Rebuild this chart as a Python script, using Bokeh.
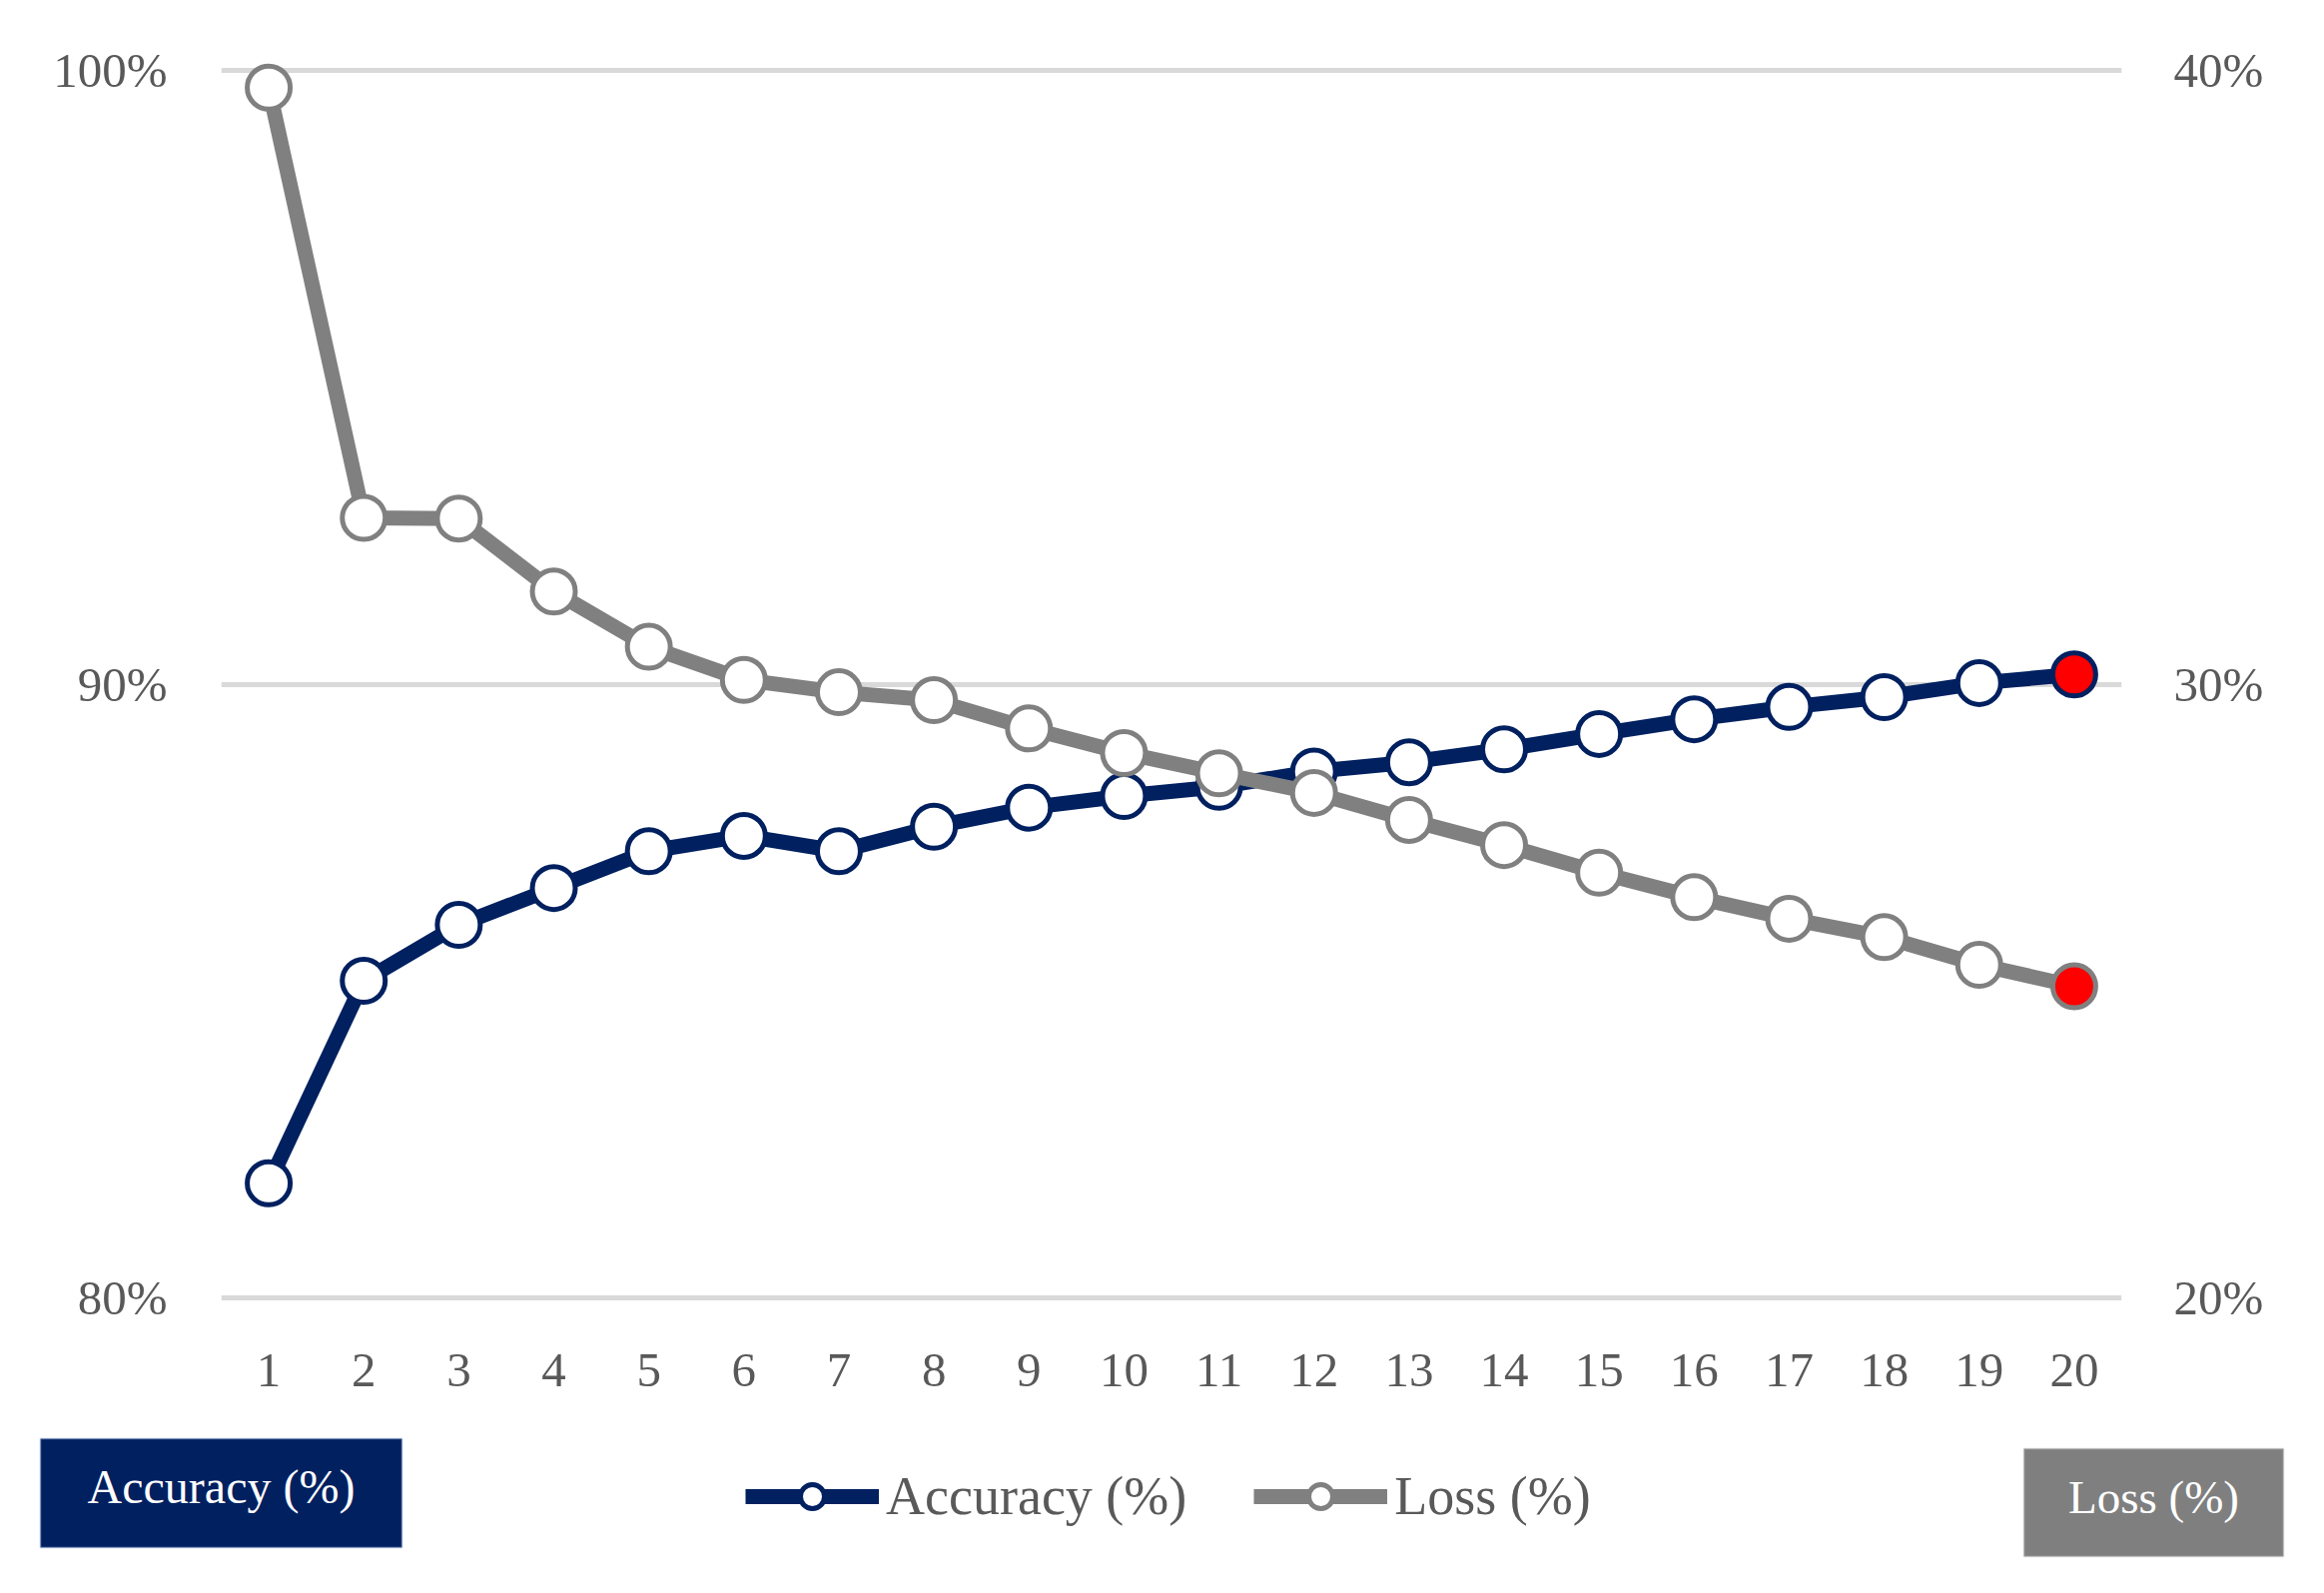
from bokeh.plotting import figure
from bokeh.models import (Range1d, LinearAxis, FixedTicker, Legend, LegendItem,
                          Label, ColumnDataSource, BoxAnnotation)
from bokeh.embed import file_html
from bokeh.resources import INLINE

# ---- data ----
epochs = list(range(1, 21))
accuracy = [81.87, 85.17, 86.08, 86.68, 87.28, 87.53, 87.28, 87.68, 87.99, 88.18,
            88.33, 88.58, 88.73, 88.94, 89.19, 89.43, 89.63, 89.79, 90.02, 90.16]
loss = [39.72, 32.71, 32.70, 31.51, 30.61, 30.07, 29.87, 29.74, 29.28, 28.88,
        28.55, 28.23, 27.79, 27.38, 26.93, 26.53, 26.18, 25.88, 25.43, 25.08]
highlight_epoch = 20

acc_ticks = [80, 90, 100]
acc_tick_labels = ["80%", "90%", "100%"]
loss_ticks = [20, 30, 40]
loss_tick_labels = ["20%", "30%", "40%"]

acc_name = "Accuracy (%)"
loss_name = "Loss (%)"

# ---- style ----
FONT = "Liberation Serif"
NAVY = "#002060"
GRAY = "#808080"
TEXT = "#595959"
GRID = "#d9d9d9"
W = 2318

fills = ["#ff0000" if e == highlight_epoch else "white" for e in epochs]
src = ColumnDataSource(dict(x=epochs, acc=accuracy, loss=loss, fill=fills))

# ---- main chart ----
p = figure(frame_width=1903, frame_height=1306,
           min_border_left=221, min_border_right=194,
           min_border_top=27, min_border_bottom=88,
           x_range=Range1d(0.5, 20.5), y_range=Range1d(79.45, 100.7),
           output_backend="svg", toolbar_location=None, tools="")
p.extra_y_ranges = {"loss": Range1d(19.45, 40.7)}
p.outline_line_color = None

xa = p.xaxis[0]
xa.ticker = FixedTicker(ticks=epochs)
ya = p.yaxis[0]
ya.ticker = FixedTicker(ticks=acc_ticks)
ya.major_label_overrides = dict(zip(acc_ticks, acc_tick_labels))
ra = LinearAxis(y_range_name="loss", ticker=FixedTicker(ticks=loss_ticks),
                major_label_overrides=dict(zip(loss_ticks, loss_tick_labels)))
p.add_layout(ra, "right")

for ax, standoff in ((xa, 22), (ya, 54), (ra, 52)):
    ax.axis_line_color = None
    ax.major_tick_line_color = None
    ax.minor_tick_line_color = None
    ax.major_tick_out = 0
    ax.major_tick_in = 0
    ax.major_label_standoff = standoff
    ax.major_label_text_font = FONT
    ax.major_label_text_font_size = "49px"
    ax.major_label_text_color = TEXT

p.xgrid.visible = False
p.ygrid.ticker = FixedTicker(ticks=acc_ticks)
p.ygrid.grid_line_color = GRID
p.ygrid.grid_line_width = 5

LW = 15
MS = 43
MLW = 5
p.line("x", "acc", source=src, line_color=NAVY, line_width=LW)
p.scatter("x", "acc", source=src, size=MS, fill_color="fill",
          line_color=NAVY, line_width=MLW)
p.line("x", "loss", source=src, y_range_name="loss", line_color=GRAY, line_width=LW)
p.scatter("x", "loss", source=src, y_range_name="loss", size=MS,
          fill_color="fill", line_color=GRAY, line_width=MLW)

# ---- bottom strip: legend and axis-name boxes (pixel coordinates, y down) ----
H2 = 165
q = figure(width=W, height=H2, min_border=0,
           x_range=Range1d(0, W), y_range=Range1d(H2, 0),
           x_axis_location=None, y_axis_location=None,
           output_backend="svg", toolbar_location=None, tools="")
q.outline_line_color = None
q.grid.visible = False

la = q.line("x", "acc", source=src, line_color=NAVY, line_width=LW, visible=False)
sa = q.scatter("x", "acc", source=src, size=MS, fill_color="white",
               line_color=NAVY, line_width=MLW, visible=False)
ll = q.line("x", "loss", source=src, line_color=GRAY, line_width=LW, visible=False)
sl = q.scatter("x", "loss", source=src, size=MS, fill_color="white",
               line_color=GRAY, line_width=MLW, visible=False)

legend = Legend(items=[LegendItem(label=acc_name, renderers=[la, sa]),
                       LegendItem(label=loss_name, renderers=[ll, sl])],
                orientation="horizontal", location=(746, 57),
                label_text_font=FONT, label_text_font_size="54px",
                label_text_color=TEXT, glyph_width=134, glyph_height=60,
                label_height=60, label_standoff=7, spacing=67,
                padding=0, margin=0, border_line_color=None,
                background_fill_alpha=0, inactive_fill_alpha=0)
q.add_layout(legend)

q.add_layout(BoxAnnotation(left=40, right=402, top=19, bottom=128,
                           fill_color=NAVY, fill_alpha=1,
                           line_color="#8ea9db", line_width=2))
q.add_layout(Label(x=221, y=67, text=acc_name, text_align="center",
                   text_baseline="middle", text_color="white", text_font=FONT,
                   text_font_size="48px"))
q.add_layout(BoxAnnotation(left=2026, right=2286, top=29, bottom=137,
                           fill_color="#7f7f7f", fill_alpha=1,
                           line_color="#bfbfbf", line_width=2))
q.add_layout(Label(x=2156, y=77, text=loss_name, text_align="center",
                   text_baseline="middle", text_color="white", text_font=FONT,
                   text_font_size="47px"))

open("out.html", "w").write(file_html([p, q], INLINE))
